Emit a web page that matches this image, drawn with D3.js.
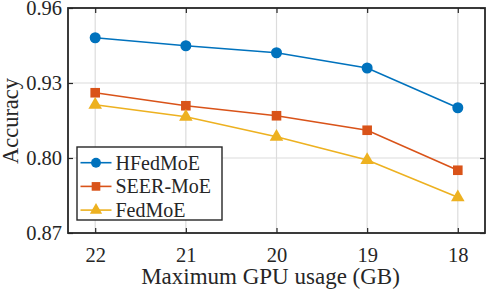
<!DOCTYPE html>
<html>
<head>
<meta charset="utf-8">
<script src="https://cdn.jsdelivr.net/npm/d3@7"></script>
<style>
  body { margin: 0; background: #fff; }
  svg text { font-family: "Liberation Serif", "DejaVu Serif", serif; fill: #262626; }
</style>
</head>
<body>
<div id="main"></div>
<script>
// data
var gpuUsage = [22, 21, 20, 19, 18];
var hfedmoe = [0.9481, 0.9449, 0.9421, 0.9360, 0.9201];
var seermoe = [0.9261, 0.9209, 0.9169, 0.9111, 0.8951];
var fedmoe = [0.9213, 0.9165, 0.9085, 0.8992, 0.8843];
var yTicks = [0.87, 0.90, 0.93, 0.96];
var yTickLabels = ["0.87", "0.80", "0.93", "0.96"];

var series = [
  {name: "HFedMoE", values: hfedmoe, color: "#0072BD", marker: "circle"},
  {name: "SEER-MoE", values: seermoe, color: "#D95319", marker: "square"},
  {name: "FedMoE", values: fedmoe, color: "#EDB120", marker: "triangle"}
];

var serif = "'Liberation Serif', 'DejaVu Serif', serif";

var W = 488, H = 291;
var margin = {top: 8, right: 3, bottom: 58, left: 68};
var width = W - margin.left - margin.right,
    height = H - margin.top - margin.bottom;

var svg = d3.select("#main").append("svg")
    .attr("width", W)
    .attr("height", H)
    .attr("font-family", serif);

var g = svg.append("g")
    .attr("transform", "translate(" + margin.left + "," + margin.top + ")");

// scales
var x = d3.scaleLinear().domain([22.3, 17.7]).range([0, width]);
var y = d3.scaleLinear().domain([0.87, 0.96]).range([height, 0]);

// grid
g.append("g").selectAll("line")
    .data(gpuUsage).enter().append("line")
    .attr("x1", function(d) { return x(d); })
    .attr("x2", function(d) { return x(d); })
    .attr("y1", 0).attr("y2", height)
    .attr("stroke", "#dcdcdc").attr("stroke-width", 1.2);
g.append("g").selectAll("line")
    .data(yTicks).enter().append("line")
    .attr("y1", function(d) { return y(d); })
    .attr("y2", function(d) { return y(d); })
    .attr("x1", 0).attr("x2", width)
    .attr("stroke", "#dcdcdc").attr("stroke-width", 1.2);

// axes
var xAxis = d3.axisBottom(x).tickValues(gpuUsage).tickSizeInner(-5).tickSizeOuter(0).tickPadding(14)
    .tickFormat(d3.format("d"));
var yAxis = d3.axisLeft(y).tickValues(yTicks).tickSizeInner(-5).tickSizeOuter(0).tickPadding(6)
    .tickFormat(function(d, i) { return yTickLabels[i]; });

var gx = g.append("g").attr("transform", "translate(0," + height + ")").call(xAxis);
var gy = g.append("g").call(yAxis);
// top and right mirrored ticks
var gxt = g.append("g").call(d3.axisTop(x).tickValues(gpuUsage).tickSizeInner(-5).tickSizeOuter(0).tickFormat(""));
var gyr = g.append("g").attr("transform", "translate(" + width + ",0)")
    .call(d3.axisRight(y).tickValues(yTicks).tickSizeInner(-5).tickSizeOuter(0).tickFormat(""));

[gx, gy, gxt, gyr].forEach(function(a) {
  a.attr("font-family", serif).attr("font-size", 20.5);
  a.select(".domain").remove();
  a.selectAll("line").attr("stroke", "#262626").attr("stroke-width", 1.2);
  a.selectAll("text").attr("fill", "#262626");
});

// box
g.append("rect")
    .attr("width", width).attr("height", height)
    .attr("fill", "none").attr("stroke", "#262626").attr("stroke-width", 1.8);

// lines
var line = d3.line()
    .x(function(d, i) { return x(gpuUsage[i]); })
    .y(function(d) { return y(d); });

function drawMarker(sel, type, color, k) {
  k = k || 1;
  if (type === "circle") {
    sel.append("circle").attr("r", 5.5 * k).attr("fill", color);
  } else if (type === "square") {
    sel.append("rect").attr("x", -4.8 * k).attr("y", -4.8 * k)
        .attr("width", 9.6 * k).attr("height", 9.6 * k).attr("fill", color);
  } else {
    sel.append("path").attr("d", d3.symbol(d3.symbolTriangle, 80 * k * k)).attr("fill", color);
  }
}

series.forEach(function(s) {
  g.append("path")
      .datum(s.values)
      .attr("d", line)
      .attr("fill", "none")
      .attr("stroke", s.color)
      .attr("stroke-width", 1.6);
  var m = g.append("g").selectAll("g")
      .data(s.values).enter().append("g")
      .attr("transform", function(d, i) { return "translate(" + x(gpuUsage[i]) + "," + y(d) + ")"; });
  drawMarker(m, s.marker, s.color);
});

// legend
var lg = svg.append("g").attr("transform", "translate(77,147)");
lg.append("rect")
    .attr("width", 145).attr("height", 73)
    .attr("fill", "#fff").attr("stroke", "#262626").attr("stroke-width", 1.4);
series.forEach(function(s, i) {
  var row = lg.append("g").attr("transform", "translate(0," + (15.7 + i * 23.7) + ")");
  row.append("line").attr("x1", 3.5).attr("x2", 34.5)
      .attr("stroke", s.color).attr("stroke-width", 1.6);
  drawMarker(row.append("g").attr("transform", "translate(19,0)"), s.marker, s.color, 0.9);
  row.append("text").attr("x", 38.5).attr("dy", "0.35em")
      .attr("font-size", 20).text(s.name);
});

// axis titles
svg.append("text")
    .attr("x", 270.5).attr("y", 284)
    .attr("text-anchor", "middle")
    .attr("font-size", 23)
    .text("Maximum GPU usage (GB)");
svg.append("text")
    .attr("transform", "translate(18," + (margin.top + 113) + ") rotate(-90)")
    .attr("text-anchor", "middle")
    .attr("font-size", 22.5)
    .text("Accuracy");
</script>
</body>
</html>
